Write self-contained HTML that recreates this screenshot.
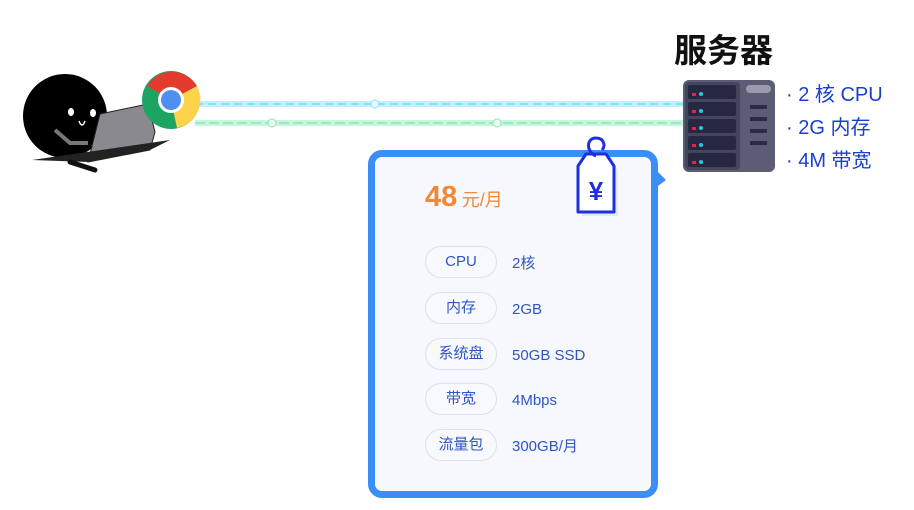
<!DOCTYPE html>
<html><head><meta charset="utf-8"><style>
body{margin:0;width:914px;height:510px;background:#fff;position:relative;overflow:hidden;font-family:"Liberation Sans","Noto Sans CJK SC",sans-serif}
.abs{position:absolute}
.card{left:368px;top:150px;width:276px;height:334px;border:7px solid #3a8ef6;border-radius:14px;background:#f6f8fd}
.pill{position:absolute;left:50px;width:70px;height:30px;border:1px solid #dde1ea;border-radius:16px;font-size:15px;color:#2f55c4;line-height:30px;text-align:center;background:#f8f9fc}
.val{position:absolute;left:137px;font-size:15px;color:#2f55c4;line-height:32px}
.spec{font-size:20px;color:#1a3fd0;left:786px}
</style></head><body>
<svg class="abs" style="left:0;top:0" width="914" height="510">
 <line x1="195" y1="104" x2="684" y2="104" stroke="#bff0fb" stroke-width="6"/>
 <line x1="195" y1="104" x2="684" y2="104" stroke="#7fdcef" stroke-width="1.5" stroke-dasharray="8 5"/>
 <line x1="195" y1="123" x2="684" y2="123" stroke="#c6f7dc" stroke-width="6"/>
 <line x1="195" y1="123" x2="684" y2="123" stroke="#8be8b3" stroke-width="1.5" stroke-dasharray="10 4"/>
 <circle cx="375" cy="104" r="4" fill="#e8fbff" stroke="#8fe3f3"/>
 <circle cx="272" cy="123" r="4" fill="#eafff2" stroke="#8be8b3"/>
 <circle cx="497" cy="123" r="4" fill="#eafff2" stroke="#8be8b3"/>
 <circle cx="65" cy="116" r="42" fill="#000"/>
 <ellipse cx="71" cy="112" rx="3" ry="4" fill="#fff"/>
 <ellipse cx="93" cy="113" rx="3" ry="4" fill="#fff"/>
 <path d="M79 121 q3 8 6 0" stroke="#fff" stroke-width="1.5" fill="none"/>
 <path d="M55 130 l15 13 l18 0" stroke="#777" stroke-width="4" fill="none"/>
 <polygon points="100,114 148,104 155,132 150,150 88,162" fill="#8a8a8e" stroke="#222" stroke-width="1"/>
 <polygon points="32,160 88,162 150,150 170,140" fill="#222"/>
 <line x1="70" y1="162" x2="95" y2="170" stroke="#111" stroke-width="5" stroke-linecap="round"/>
 <circle cx="171" cy="100" r="29" fill="#1da462"/>
 <path d="M171 100 L147 86 A29 29 0 0 1 197 86 Z" fill="#e33b2e"/>
 <path d="M171 100 L197 86 A29 29 0 0 1 177 128 Z" fill="#fcd34a"/>
 <circle cx="171" cy="100" r="13" fill="#fff"/>
 <circle cx="171" cy="100" r="10" fill="#4f8ef2"/>
 <rect x="683" y="80" width="92" height="92" rx="6" fill="#5b5d75"/>
 <rect x="685" y="82" width="55" height="88" rx="4" fill="#44465e"/>
 <g fill="#262842">
  <rect x="688" y="85" width="48" height="14" rx="2"/><rect x="688" y="102" width="48" height="14" rx="2"/>
  <rect x="688" y="119" width="48" height="14" rx="2"/><rect x="688" y="136" width="48" height="14" rx="2"/>
  <rect x="688" y="153" width="48" height="14" rx="2"/>
 </g>
 <g fill="#e0244a"><rect x="692" y="93" width="4" height="3"/><rect x="692" y="110" width="4" height="3"/><rect x="692" y="127" width="4" height="3"/><rect x="692" y="144" width="4" height="3"/><rect x="692" y="161" width="4" height="3"/></g>
 <g fill="#27c8e0"><circle cx="701" cy="94" r="2"/><circle cx="701" cy="111" r="2"/><circle cx="701" cy="128" r="2"/><circle cx="701" cy="145" r="2"/><circle cx="701" cy="162" r="2"/></g>
 <rect x="746" y="85" width="25" height="8" rx="4" fill="#9a9bb0"/>
 <g fill="#2a2c44"><rect x="750" y="105" width="17" height="4"/><rect x="750" y="117" width="17" height="4"/><rect x="750" y="129" width="17" height="4"/><rect x="750" y="141" width="17" height="4"/></g>
</svg>
<div class="abs" style="left:674px;top:24px;font-size:33px;font-weight:bold;color:#111">服务器</div>
<div class="abs spec" style="top:78px">· 2 核 CPU</div>
<div class="abs spec" style="top:111px">· 2G 内存</div>
<div class="abs spec" style="top:144px">· 4M 带宽</div>
<div class="abs card">
 <div class="abs" style="left:50px;top:24px;color:#f0883a"><span style="font-size:29px;font-weight:bold">48</span> <span style="font-size:18px">元/月</span></div>
 <div class="pill" style="top:89px">CPU</div><div class="val" style="top:91px">2核</div>
 <div class="pill" style="top:135px">内存</div><div class="val" style="top:137px">2GB</div>
 <div class="pill" style="top:181px">系统盘</div><div class="val" style="top:183px">50GB SSD</div>
 <div class="pill" style="top:226px">带宽</div><div class="val" style="top:228px">4Mbps</div>
 <div class="pill" style="top:272px">流量包</div><div class="val" style="top:274px">300GB/月</div>
</div>
<svg class="abs" style="left:568px;top:130px" width="110" height="90">
 <polygon points="90,42 98,50 90,56" fill="#3a8ef6"/>
 <path d="M12 38 L20 26 L40 26 L48 38 L48 84 L12 84 Z" fill="#e5e8f5" transform="translate(2,2)"/>
 <path d="M10 36 L18 24 L38 24 L46 36 L46 82 L10 82 Z" fill="#fff" stroke="#1d2fe0" stroke-width="3" stroke-linejoin="round"/>
 <path d="M28 26 C18 22 18 8 28 8 C36 8 38 16 34 20" stroke="#1d2fe0" stroke-width="3" fill="none"/>
 <text x="28" y="70" text-anchor="middle" font-size="26" font-weight="bold" fill="#1d2fe0" font-family="Liberation Sans,sans-serif">¥</text>
</svg>
</body></html>
